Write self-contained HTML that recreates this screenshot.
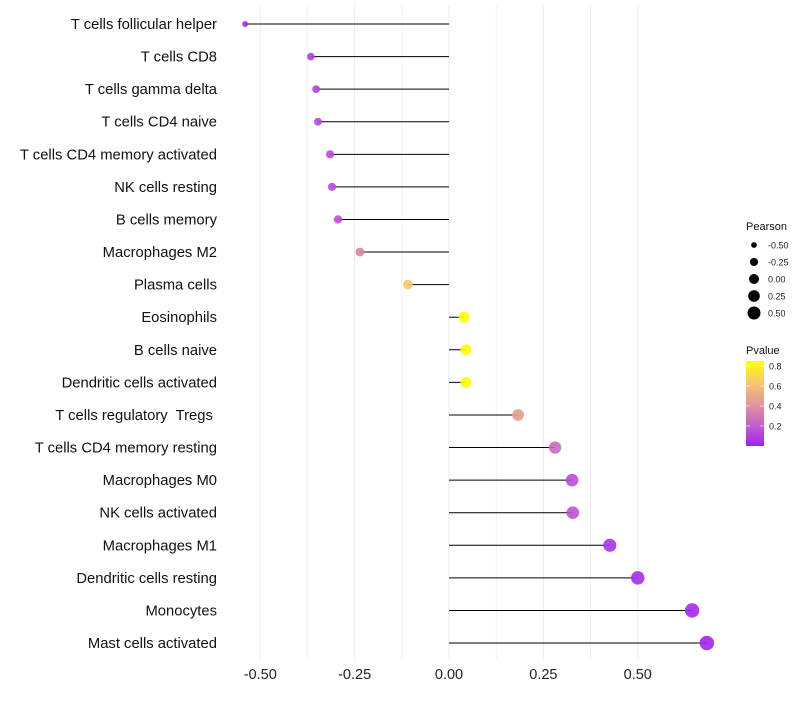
<!DOCTYPE html>
<html><head><meta charset="utf-8"><style>
body{margin:0;background:#fff;font-family:"Liberation Sans",sans-serif}
text{white-space:pre}
</style></head><body>
<svg id="c" width="800" height="700" xmlns="http://www.w3.org/2000/svg"></svg>
<script>
const categories=["T cells follicular helper","T cells CD8","T cells gamma delta","T cells CD4 naive","T cells CD4 memory activated","NK cells resting","B cells memory","Macrophages M2","Plasma cells","Eosinophils","B cells naive","Dendritic cells activated","T cells regulatory  Tregs ","T cells CD4 memory resting","Macrophages M0","NK cells activated","Macrophages M1","Dendritic cells resting","Monocytes","Mast cells activated"];
const pearson=[-0.54,-0.366,-0.352,-0.347,-0.315,-0.31,-0.294,-0.236,-0.109,0.04,0.045,0.045,0.183,0.281,0.326,0.328,0.426,0.50,0.644,0.683];
const pvalue=[0.02,0.1,0.12,0.13,0.14,0.14,0.16,0.36,0.65,0.85,0.85,0.85,0.45,0.25,0.15,0.17,0.06,0.04,0.03,0.02];
const xTicks=[-0.5,-0.25,0,0.25,0.5];
const xTickLabels=["-0.50","-0.25","0.00","0.25","0.50"];
const sizeLegendVals=[-0.5,-0.25,0,0.25,0.5];
const colorLegendVals=[0.2,0.4,0.6,0.8];

const svg=document.getElementById('c');
const NS="http://www.w3.org/2000/svg";
function el(t,a,p){const e=document.createElementNS(NS,t);for(const k in a)e.setAttribute(k,a[k]);(p||svg).appendChild(e);return e;}
const x=v=>449+v*377.5;
const y=i=>24+i*32.58;
const r=v=>Math.sqrt(Math.max(1,28+36*v));
const stops=[[0,[160,32,240]],[0.25,[198,96,200]],[0.5,[224,152,152]],[0.75,[245,200,112]],[1,[255,255,0]]];
function col(p){let t=Math.min(1,Math.max(0,p/0.86));for(let i=1;i<stops.length;i++){if(t<=stops[i][0]){const a=stops[i-1],b=stops[i];const f=(t-a[0])/(b[0]-a[0]);const c=a[1].map((v,j)=>Math.round(v+(b[1][j]-v)*f));return `rgb(${c.join(',')})`;}}return 'rgb(255,255,0)';}

for(let v=-0.5;v<=0.5001;v+=0.125){const g=el('line',{x1:x(v),x2:x(v),y1:5,y2:660,stroke:'#ebebeb','stroke-width':Math.abs((v*4)%1)<0.01?1:0.6});}
xTicks.forEach((v,i)=>{const t=el('text',{x:x(v),y:679,'font-size':14.5,'text-anchor':'middle',fill:'#222'});t.textContent=xTickLabels[i];});

categories.forEach((c,i)=>{
 const t=el('text',{x:217,y:y(i)+5,'font-size':14.8,'text-anchor':'end',fill:'#111'});t.textContent=c;
 
 const l=el('line',{x1:x(0),x2:x(pearson[i]),y1:y(i),y2:y(i),stroke:'#000','stroke-width':1});
 
 const d=el('circle',{cx:x(pearson[i]),cy:y(i),r:r(pearson[i]),fill:col(pvalue[i]),'fill-opacity':0.9});
 
});

const lt=el('text',{x:746,y:230,'font-size':11,fill:'#111'});lt.textContent='Pearson';

sizeLegendVals.forEach((v,i)=>{const cy=245+i*17;
 const c=el('circle',{cx:754,cy:cy,r:r(v)-0.3,fill:'#000'});
 const t=el('text',{x:768,y:cy+3.5,'font-size':9,fill:'#222'});t.textContent=v.toFixed(2);});
const ct=el('text',{x:746,y:354,'font-size':11,fill:'#111'});ct.textContent='Pvalue';

const defs=el('defs',{});const g=el('linearGradient',{id:'pg',x1:0,y1:1,x2:0,y2:0},defs);
stops.forEach(s=>el('stop',{offset:s[0],'stop-color':`rgb(${s[1].join(',')})`},g));
const bar=el('rect',{x:746,y:361,width:18,height:85,fill:'url(#pg)'});
colorLegendVals.forEach(v=>{const cy=446-v*100;
 el('line',{x1:746,x2:750,y1:cy,y2:cy,stroke:'#fff','stroke-opacity':0.6});el('line',{x1:760,x2:764,y1:cy,y2:cy,stroke:'#fff','stroke-opacity':0.6});
 const t=el('text',{x:769,y:cy+3.5,'font-size':9,fill:'#222'});t.textContent=v.toFixed(1);});
</script>
</body></html>
